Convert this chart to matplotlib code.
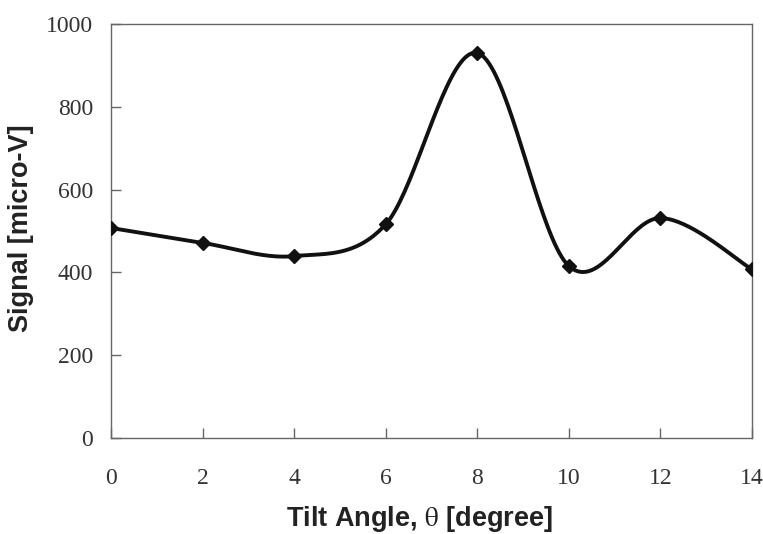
import numpy as np
import matplotlib.pyplot as plt

# Tilt angle (degree) and measured signal (micro-V)
angle = [0, 2, 4, 6, 8, 10, 12, 14]
signal = [507, 471, 439, 516, 930, 415, 531, 407]

x_ticks = [0, 2, 4, 6, 8, 10, 12, 14]
y_ticks = [0, 200, 400, 600, 800, 1000]


def smooth(x, y, n=40):
    """Spreadsheet-style smoothed line: cubic Bezier pieces with Catmull-Rom tangents."""
    x = np.asarray(x, float)
    y = np.asarray(y, float)
    px = np.concatenate([[x[0]], x, [x[-1]]])
    py = np.concatenate([[y[0]], y, [y[-1]]])
    XX, YY = [], []
    t = np.linspace(0, 1, n)
    for i in range(1, len(px) - 2):
        p0 = np.array([px[i], py[i]])
        p3 = np.array([px[i + 1], py[i + 1]])
        c1 = p0 + (np.array([px[i + 1], py[i + 1]]) - np.array([px[i - 1], py[i - 1]])) / 6
        c2 = p3 - (np.array([px[i + 2], py[i + 2]]) - np.array([px[i], py[i]])) / 6
        for tt in t:
            b = ((1 - tt) ** 3) * p0 + 3 * ((1 - tt) ** 2) * tt * c1 + 3 * (1 - tt) * tt ** 2 * c2 + tt ** 3 * p3
            XX.append(b[0])
            YY.append(b[1])
    return XX, YY


plt.rcParams['mathtext.fontset'] = 'stix'

fig = plt.figure(figsize=(7.63, 5.34), dpi=100)
ax = fig.add_axes([0.1455, 0.1803, 0.8401, 0.7747])

sx, sy = smooth(angle, signal)
ax.plot(sx, sy, color='#111111', lw=2.8, zorder=3)
ax.plot(angle, signal, linestyle='none', marker='D', markersize=7.5,
        color='#111111', zorder=4)

ax.set_xlim(0, 14)
ax.set_ylim(0, 1000)
ax.set_xticks(x_ticks)
ax.set_yticks(y_ticks)

for s in ax.spines.values():
    s.set_color('#666666')
    s.set_linewidth(1.0)

ax.tick_params(axis='x', direction='in', length=7, width=1, color='#666666', pad=22)
ax.tick_params(axis='y', direction='in', length=7, width=1, color='#666666', pad=13)
for lab in ax.get_xticklabels() + ax.get_yticklabels():
    lab.set_fontfamily('Liberation Serif')
    lab.set_fontsize(17)
    lab.set_color('#333333')

ax.set_xlabel(r'Tilt Angle, $\mathrm{\theta}$ [degree]', fontsize=19.5, fontweight='bold',
              fontfamily='Liberation Sans', color='#222222')
ax.set_ylabel('Signal [micro-V]', fontsize=19.5, fontweight='bold',
              fontfamily='Liberation Sans', color='#222222')
ax.xaxis.set_label_coords(0.482, -0.16)
ax.yaxis.set_label_coords(-0.12, 0.507)

fig.savefig('out.png', dpi=100)
